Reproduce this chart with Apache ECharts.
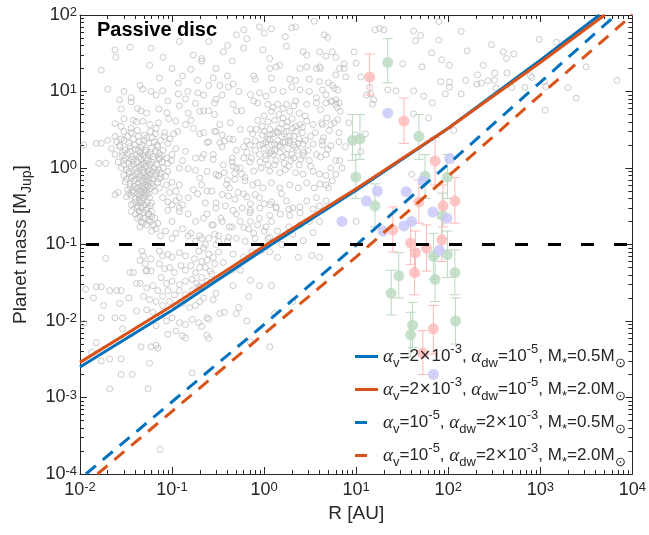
<!DOCTYPE html>
<html><head><meta charset="utf-8">
<script src="https://cdn.jsdelivr.net/npm/echarts@6/dist/echarts.min.js"></script>
<style>html,body{margin:0;padding:0;background:#fff}#c{width:649px;height:535px}</style>
</head><body><div id="c"></div>
<script>
// ---- grey exoplanets [R (AU), M (MJup)] ----
const exoHotJupiters = [
[0.03,3.0],[0.036,2.9],[0.042,3.1],[0.05,2.7],[0.058,3.0],[0.066,2.8],[0.024,2.6],[0.028,2.4],
[0.020,2.3],[0.025,2.2],[0.03,2.3],[0.034,2.1],[0.038,2.4],[0.044,2.2],[0.05,2.3],[0.056,2.1],[0.064,2.2],[0.075,2.3],[0.09,2.1],
[0.022,1.8],[0.027,1.9],[0.031,1.7],[0.035,1.9],[0.04,1.75],[0.046,1.85],[0.052,1.7],[0.06,1.8],[0.07,1.9],[0.08,1.7],
[0.024,1.5],[0.029,1.45],[0.033,1.55],[0.037,1.4],[0.041,1.5],[0.045,1.6],[0.049,1.45],[0.055,1.5],[0.062,1.4],[0.072,1.55],[0.1,1.5],
[0.026,1.2],[0.030,1.25],[0.034,1.15],[0.038,1.25],[0.042,1.2],[0.046,1.3],[0.05,1.15],[0.054,1.25],[0.06,1.2],[0.068,1.1],[0.078,1.2],[0.09,1.15],
[0.028,1.0],[0.032,0.95],[0.036,1.05],[0.04,0.98],[0.044,1.02],[0.048,0.94],[0.052,1.05],[0.057,0.97],[0.064,1.0],[0.072,0.95],
[0.03,0.8],[0.034,0.85],[0.038,0.78],[0.041,0.84],[0.045,0.8],[0.049,0.86],[0.053,0.78],[0.058,0.82],[0.065,0.8],[0.075,0.85],[0.085,0.78],
[0.031,0.66],[0.035,0.62],[0.039,0.68],[0.043,0.63],[0.047,0.67],[0.051,0.61],[0.055,0.66],[0.06,0.63],[0.07,0.65],
[0.033,0.52],[0.037,0.5],[0.041,0.54],[0.045,0.5],[0.049,0.53],[0.053,0.5],[0.058,0.54],[0.065,0.5],
[0.032,0.42],[0.036,0.44],[0.04,0.4],[0.044,0.43],[0.048,0.41],[0.052,0.44],[0.057,0.41],[0.024,0.45],[0.026,0.48],
[0.038,0.34],[0.042,0.32],[0.046,0.35],[0.05,0.33],[0.06,0.35],
[0.036,0.27],[0.04,0.25],[0.044,0.27],[0.048,0.26],[0.052,0.28],[0.056,0.25],[0.042,0.22],[0.05,0.22],[0.046,0.2],
[0.042,0.3],[0.046,0.31],[0.054,0.3],[0.058,0.32],[0.044,0.27],[0.056,0.25],[0.06,0.27],[0.045,0.23],[0.055,0.21],[0.06,0.23],
[0.065,0.22],[0.048,0.19],[0.053,0.18],[0.058,0.2],[0.063,0.18],[0.07,0.19],[0.036,0.33],[0.09,0.36],[0.1,0.33],[0.11,0.37],
[0.13,0.33],[0.12,0.27],[0.09,0.28],[0.075,0.13],[0.085,0.15],[0.067,0.16],[0.06,0.15],[0.045,0.17],[0.1,0.12],[0.11,0.14],[0.15,0.13],[0.18,0.11],
[0.027,2.0],[0.033,2.6],[0.039,2.0],[0.043,2.6],[0.047,2.0],[0.053,2.5],[0.061,2.5],[0.069,2.0],[0.082,2.6],[0.095,2.4],
[0.029,1.6],[0.035,1.65],[0.043,1.68],[0.051,1.6],[0.058,1.62],[0.066,1.65],[0.076,1.45],[0.088,1.35],
[0.031,1.35],[0.036,1.3],[0.044,1.38],[0.048,1.12],[0.052,1.35],[0.057,1.1],[0.063,1.3],[0.073,1.3],
[0.03,1.1],[0.034,0.9],[0.038,1.12],[0.042,0.9],[0.046,1.1],[0.05,0.88],[0.055,0.9],[0.061,0.9],[0.068,0.88],[0.08,1.0],
[0.032,0.72],[0.036,0.75],[0.04,0.72],[0.044,0.72],[0.048,0.74],[0.052,0.7],[0.056,0.73],[0.062,0.72],[0.072,0.72],
[0.035,0.57],[0.039,0.58],[0.043,0.56],[0.047,0.58],[0.051,0.56],[0.055,0.58],[0.062,0.57],
[0.034,0.46],[0.038,0.47],[0.042,0.46],[0.046,0.46],[0.05,0.47],[0.055,0.46],[0.04,0.36],[0.044,0.38],[0.048,0.37],[0.054,0.36]
];
const exoUpperLeft = [
[0.024,35],[0.0245,28],[0.035,38],[0.059,37],[0.057,22],[0.017,19],[0.073,15],[0.045,12],[0.048,10.7],[0.059,10],[0.067,9],[0.079,10.2],
[0.117,12.9],[0.117,9.3],[0.148,10],[0.19,9.6],[0.19,14],[0.16,19.5],[0.21,25],[0.020,10.7],[0.030,10],[0.027,7.8],[0.036,8.3],[0.036,7.3],
[0.028,5.9],[0.042,6.0],[0.046,5.6],[0.053,5.2],[0.072,5.9],[0.088,5.3],[0.030,4.4],[0.024,3.8],[0.028,3.5],[0.036,3.3],[0.038,4.2],[0.041,4.0],
[0.048,4.1],[0.057,3.7],[0.071,3.9],[0.067,3.3],[0.092,4.4],[0.11,4.1],[0.14,3.7],[0.17,3.3],[0.20,5.5],[0.083,2.9],[0.104,2.8],[0.115,3.0],
[0.015,2.1],[0.017,2.1],[0.016,1.15],[0.019,1.15],[0.011,2.0],
[0.12,1.0],[0.15,0.98],[0.18,0.93],[0.2,0.74],[0.17,0.52],[0.19,0.46],[0.15,0.41],[0.12,0.41],[0.11,0.5],[0.12,0.6],[0.10,0.65],[0.09,0.9],
[0.076,0.75],[0.087,0.6],[0.094,0.48],[0.073,0.55],[0.079,0.41],[0.098,1.25],[0.13,1.25],[0.073,1.35],[0.18,1.35],[0.14,1.65],[0.11,1.8],
[0.12,6.5],[0.15,5.2],[0.14,8],[0.18,7],[0.22,9],[0.25,12],[0.28,15],[0.13,16],[0.1,20],[0.17,30],[0.3,20],[0.35,9],[0.4,16],[0.45,25],
[0.12,45],[0.25,45],[0.4,40],[0.08,28],[0.09,7.5],[0.16,4.2]
];
const exoMidSparse = [
[0.2,2.8],[0.25,2.2],[0.3,3.0],[0.35,1.9],[0.42,2.4],[0.5,1.7],[0.6,1.9],[0.22,1.5],[0.28,1.3],[0.36,1.1],[0.45,1.2],[0.55,1.0],[0.7,1.2],
[0.24,0.9],[0.32,0.8],[0.4,0.7],[0.48,0.85],[0.62,0.75],[0.75,0.6],[0.21,0.6],[0.27,0.5],[0.35,0.45],[0.42,0.55],[0.52,0.48],[0.65,0.42],
[0.8,0.45],[0.23,0.35],[0.3,0.3],[0.38,0.32],[0.46,0.28],[0.58,0.3],[0.7,0.26],[0.9,0.3],[0.12,0.3],[0.15,0.25],[0.18,0.2],[0.22,0.22],
[0.28,0.18],[0.35,0.2],[0.45,0.17],[0.55,0.2],[0.68,0.16],[0.85,0.18],[0.1,0.2],[0.13,0.16],[0.16,0.14],[0.2,0.13],[0.25,0.12],[0.32,0.13],
[0.4,0.11],[0.5,0.12],[0.62,0.11],[0.8,0.12],[1.0,0.15],[1.2,0.2],[1.5,0.25],[1.1,0.12]
];
const exoColdJupiters = [
[0.60,64],[0.89,70],[1.2,66],[2.0,68],[2.2,70],[3.5,83],[0.50,55],[0.65,49],[1.0,58],[1.7,52],[4.9,51],[0.36,33],[0.60,37],[0.97,35],
[1.15,27],[1.75,39],[2.65,33],[2.9,30],[4.0,33],[4.7,29],[0.21,27],[1.48,22],[1.35,21],[2.45,20],[2.9,21],[3.7,20],[4.0,21],[1.15,20],
[0.77,16],[0.8,14.5],[1.2,15],[1.9,14.5],[2.2,14],[3.1,14.5],[4.0,13.5],[5.5,12],[0.46,12.5],[0.33,12],[0.41,11.5],[0.53,10],[0.71,9.1],
[0.89,9.6],[1.05,8.7],[1.25,10.5],[1.6,10],[2.0,11.5],[2.45,10.5],[3.1,10],[3.7,8.3],[4.7,9.1],[5.5,7.5],[0.30,7.9],[0.29,7.1],[0.25,5.6],
[0.22,5.6],[0.46,6.8],[0.50,5.6],[0.57,5.6],[0.77,7.5],[0.85,7.1],[1.1,6.8],[1.4,6.8],[1.75,6.8],[2.2,7.5],[2.9,6.8],[3.7,7.1],[4.7,7.1],
[6.0,6.8],[0.29,5.0],[0.33,3.7],[0.43,3.9],[0.55,3.2],[0.71,3.2],[0.82,3.2],[1.0,3.0],[1.15,2.7],[1.4,2.9],[1.75,3.0],[2.05,3.3],[2.45,3.7],
[2.9,4.1],[3.4,3.7],[4.3,3.7],[5.3,3.7],[0.22,2.9],[0.29,3.0],[0.35,2.7],[0.24,2.15],[0.33,2.15],[0.37,2.25],[0.46,2.35],[0.65,2.25],
[0.80,2.25],[0.97,2.05],[1.15,2.35],[1.3,2.05],[1.6,2.15],[1.9,2.15],[2.2,1.85],[2.65,2.05],[3.4,2.05],[4.3,2.25],[5.3,1.95],[0.21,1.35],
[0.28,1.5],[0.45,1.35],[0.50,1.0],[0.60,1.35],[0.73,1.35],[0.89,1.5],[1.05,1.45],[1.2,1.65],[1.48,1.6],[1.75,1.5],[2.1,1.35],[2.65,1.45],
[3.1,1.25],[3.7,1.5],[4.7,1.5],[6.0,1.25],[0.30,0.83],[0.37,0.87],[0.46,1.05],[0.57,0.83],[0.77,0.91],[0.93,1.0],[1.15,0.91],[1.48,0.87],
[1.85,1.05],[2.2,0.87],[2.65,0.83],[3.4,0.91],[4.0,0.83],[0.24,0.50],[0.32,0.79],[0.39,0.61],[0.48,0.71],[0.62,0.68],[0.85,0.64],[0.97,0.55],
[1.2,0.64],[1.48,0.55],[1.9,0.6],[2.35,0.55],[2.9,0.64],[3.5,0.55],[4.7,0.6],[5.5,0.68],[0.41,0.43],[0.48,0.39],[0.6,0.46],[0.89,0.41],
[1.0,0.34],[1.2,0.36],[1.55,0.46],[1.75,0.37],[2.05,0.3],[2.9,0.37],[3.7,0.41],[4.7,0.37],[1.35,0.3],[0.71,0.28],
[1.0,1.8],[1.1,2.4],[1.2,2.0],[1.25,2.8],[1.3,1.7],[1.4,2.3],[1.45,3.3],[1.5,1.9],[1.55,2.6],[1.6,1.4],[1.7,2.2],[1.75,3.5],[1.8,1.8],
[1.9,2.6],[2.0,1.5],[2.1,2.0],[2.2,3.0],[2.3,1.7],[2.4,2.4],[2.5,1.3],[1.05,1.3],[1.15,3.2],[1.35,1.25],[1.65,1.15],[1.95,1.25],[2.6,2.9],
[2.8,2.3],[3.0,1.7],[0.95,2.7],[1.1,1.1],[1.3,4.2],[1.6,4.5],[2.0,4.4],[2.4,5.2],[1.0,4.8],[1.2,5.5],[3.2,2.6],[3.6,2.9],[0.8,1.7],[0.75,2.8],
[0.9,2.0],[1.05,2.2],[1.25,1.5],[1.45,2.0],[1.65,2.8],[1.85,2.3],[2.1,2.6],[2.35,2.1],[2.7,1.6],[1.15,1.55],[1.35,3.0],[1.55,3.8],[1.8,4.0],
[2.2,3.5],[2.6,3.4],[0.95,3.5],[1.1,4.0],[1.45,5.0],[1.9,5.5],[2.8,4.8],[1.25,6.2],[1.6,6.0],[2.1,6.5],[0.85,4.2],[0.7,2.0],[0.65,1.6],
[0.9,1.2],[1.3,1.1],[1.7,0.95],[2.4,1.1],[3.2,1.05]
];
const exoWide = [
[16,64],[18,67],[20,64],[42,62],[44,46],[50,54],[79,82],[79,47],[138,61],[160,34],[295,41],[395,33],[515,31],[430,27],[970,48],[1500,44],
[3150,21],[6800,14],[9.5,33],[10,23.5],[7.4,23],[7.4,20],[7.7,15.5],[6.0,28],[11.3,15.5],[14,11.3],[14.4,9.3],[13,9],[22,10.5],[27,10.2],
[32,23],[52,21],[66,32],[85,26],[103,22],[83,13.4],[103,13.3],[103,11.4],[155,14],[208,16.5],[240,22],[320,17.4],[318,14],[205,12.5],
[228,12.9],[270,13.8],[330,11.1],[435,17.4],[490,11.3],[680,11.3],[780,16.1],[810,15.3],[1100,13.4],[1150,11.6],[2000,11.3],[2450,8.2],
[1130,5.7],[138,9.3],[93,9.3],[42,10.2],[67,7.1],[42,5.1],[61,4.5],[115,3.1],[54,8.7],[6.0,16.5],[6.3,10.5],[6.0,7.8],[6.5,7.1],[6.7,5.5],
[6.3,4.3],[8.3,3.9],[6.5,2.9],[12.6,2.8],[11.2,1.65],[6.0,0.83],[40,0.83],[10,0.2],[15.5,7.8],[15,6.8],
[4.5,55],[5.5,33],[6.6,20],[4.1,20],[5.0,13],[5.8,11],[4.3,10.5],[5.3,7.4],[6.2,6.2],[4.1,5.8],[4.8,4.5],[5.8,3.9],[4.2,3.9],[5.1,3.1],
[4.4,2.5],[6.5,2.2],[4.3,2.0],[4.9,1.75],[4.1,1.4],[5.3,1.0],[7.0,1.0],[4.7,0.8],[4.05,0.62],[5.0,0.55],[9.8,2.7],[7.6,1.9],[6.6,1.25]
];
const exoLowMass = [
[0.019,0.066],[0.0115,0.026],[0.014,0.020],[0.015,0.028],[0.017,0.028],[0.021,0.025],[0.025,0.025],[0.028,0.025],[0.018,0.016],[0.027,0.017],
[0.017,0.011],[0.024,0.011],[0.029,0.011],[0.029,0.0079],[0.015,0.0052],[0.0134,0.0039],[0.021,0.0032],[0.028,0.0032],[0.028,0.002],
[0.037,0.002],[0.021,0.0013],[0.055,0.0013],[0.074,0.00021],[0.036,0.0068],[0.046,0.0046],[0.057,0.0028],[0.067,0.0048],[0.035,0.043],
[0.038,0.043],[0.041,0.031],[0.045,0.031],[0.052,0.045],[0.059,0.045],[0.034,0.020],[0.011,0.0093],[0.017,0.003],[0.165,0.0021],
[0.047,0.082],[0.049,0.071],[0.045,0.062],[0.051,0.056],[0.059,0.065],[0.073,0.082],[0.079,0.071],[0.09,0.074],[0.10,0.068],[0.12,0.078],
[0.14,0.071],[0.175,0.065],[0.195,0.082],[0.053,0.046],[0.073,0.056],[0.083,0.048],[0.094,0.05],[0.106,0.043],[0.125,0.053],[0.14,0.046],
[0.16,0.053],[0.18,0.043],[0.20,0.05],[0.076,0.037],[0.087,0.031],[0.10,0.033],[0.12,0.03],[0.14,0.033],[0.165,0.035],[0.185,0.031],
[0.053,0.027],[0.062,0.029],[0.07,0.025],[0.079,0.021],[0.09,0.025],[0.106,0.022],[0.12,0.025],[0.14,0.022],[0.165,0.025],[0.195,0.028],
[0.049,0.021],[0.057,0.019],[0.067,0.018],[0.079,0.016],[0.094,0.018],[0.11,0.016],[0.13,0.017],[0.155,0.015],[0.18,0.016],[0.20,0.018],
[0.041,0.0135],[0.053,0.014],[0.062,0.013],[0.076,0.0117],[0.087,0.010],[0.10,0.011],[0.12,0.0095],[0.14,0.009],[0.165,0.0105],[0.195,0.0095],
[0.067,0.0087],[0.09,0.0067],[0.11,0.0074],[0.13,0.0064],[0.059,0.0046],[0.07,0.0044],[0.14,0.006],
[0.30,0.35],[0.71,0.34],[1.15,0.33],[1.35,0.31],[1.85,0.29],[2.45,0.31],[3.4,0.29],[4.0,0.32],[0.24,0.25],[0.34,0.22],[0.50,0.25],[0.71,0.20],
[0.89,0.22],[1.15,0.24],[1.9,0.24],[2.45,0.26],[0.27,0.18],[0.42,0.17],[0.6,0.166],[0.77,0.14],[1.05,0.17],[1.4,0.15],[1.85,0.17],[2.45,0.18],
[3.1,0.2],[4.0,0.2],[0.29,0.136],[0.41,0.124],[1.15,0.124],[1.55,0.10],[2.05,0.136],[2.65,0.112],[3.4,0.143],[0.23,0.10],[0.32,0.08],
[0.46,0.075],[0.6,0.068],[0.74,0.08],[0.93,0.083],[1.15,0.08],[1.4,0.068],[2.35,0.068],[3.3,0.072],[4.0,0.068],[0.24,0.062],[0.29,0.056],
[0.36,0.058],[0.45,0.046],[0.55,0.046],[0.71,0.034],[0.89,0.029],[1.2,0.029],[0.21,0.037],[0.27,0.041],[0.30,0.023],[0.28,0.019],[0.53,0.015],
[0.5,0.0125],[0.37,0.013],[0.33,0.0125],[0.24,0.011],[0.25,0.0105],[0.21,0.0085],[0.24,0.0065],[0.25,0.0059],[0.65,0.010],[0.71,0.0053],
[1.15,0.0046],[2.05,0.018],[1.3,0.0125],[0.46,0.029],[0.68,0.021],[0.21,0.12],[0.22,0.09],[0.25,0.075],[0.23,0.05],[0.26,0.045],[0.3,0.1],
[0.21,0.06],[0.24,0.033],[0.28,0.068],[0.32,0.11],[0.2,0.028],[0.22,0.02]
];
// ---- observed candidates [R, M, Mlow, Mhigh] ----
const pinkPts = [
[14,15.5,9,31],[33,4.1,2.1,8.2],[72,1.23,0.6,2.5],[118,0.37,0.19,0.75],[88,0.32,0.17,0.6],[48,0.36,0.19,0.7],[25,0.155,0.08,0.31],
[39,0.105,0.055,0.2],[44,0.078,0.04,0.15],[58,0.09,0.045,0.18],[85,0.115,0.06,0.22],[43,0.043,0.022,0.085],[69,0.0079,0.0037,0.016],
[53,0.0038,0.002,0.0075]
];
const greenPts = [
[22,24,13,49],[9.1,2.3,1.26,5],[11,2.4,1.3,5],[48,2.6,1.3,5],[9.9,0.76,0.4,1.5],[16,0.32,0.17,0.62],[56,0.78,0.4,1.5],[98,0.76,0.4,1.5],
[86,0.24,0.12,0.47],[69,0.07,0.035,0.14],[98,0.074,0.037,0.15],[118,0.043,0.022,0.085],[72,0.035,0.018,0.07],[29,0.039,0.02,0.078],
[24,0.023,0.012,0.046],[41,0.0088,0.0045,0.0175],[39,0.0066,0.0034,0.013],[120,0.010,0.005,0.02]
];
const purplePts = [
[22,5.2],[17,0.5],[12.9,0.37],[35,0.49],[53,0.68],[104,1.33],[7,0.2],[19.5,0.15],[33,0.175],[40,0.2],[68,0.265],[97,0.22],[80,0.084],[69,0.002]
];
// ---- model curves [R, M] ----
const solidBlue = [[0.01,0.00251],[0.1,0.0138],[1,0.087],[10,0.513],[100,3.31],[1000,25.7],[4400,100]];
const solidOrange = [[0.01,0.00288],[0.1,0.0158],[1,0.0955],[10,0.537],[100,3.31],[1000,24.0],[5000,100]];
const dashBlue = [[0.0116,0.0001],[0.1,0.00088],[1,0.009],[10,0.098],[100,1.12],[1000,13.2],[6600,100]];
const dashOrange = [[0.0155,0.0001],[0.1,0.00066],[1,0.0068],[10,0.069],[100,0.78],[1000,9.0],[10000,100]];
const thresholdLine = [[0.01,0.1],[10000,0.1]];
const legendNames = ['m1','m2','m3','m4'];
const legendRich = {
 m1: '{a|α}{s|v}=2{x|×}10{p|-3}, {a|α}{s|dw}=10{p|-5}, M{s|*}=0.5M{s|⊙}',
 m2: '{a|α}{s|v}=2{x|×}10{p|-3}, {a|α}{s|dw}=10{p|-5}, M{s|*}=2.0M{s|⊙}',
 m3: '{a|α}{s|v}=10{p|-5}, {a|α}{s|dw}=2{x|×}10{p|-3}, M{s|*}=0.5M{s|⊙}',
 m4: '{a|α}{s|v}=10{p|-5}, {a|α}{s|dw}=2{x|×}10{p|-3}, M{s|*}=2.0M{s|⊙}'
};

const INK = '#262626';
const FONT = 'Liberation Sans';
const BLUE = '#0072BD', ORANGE = '#D95319';
const PINK = '#FFB8B8', GREEN = '#B9D9BF', PURPLE = '#C5C5FB', GREY = '#BEBEBE';
const ICON_SOLID = 'path://M0,0H23V3H0Z';
const ICON_DASH = 'path://M0,0H12V3H0ZM22.9,0H23V3H22.9Z';

const chart = echarts.init(document.getElementById('c'), null, {renderer: 'canvas'});
const supLabel = v => {
  const e = Math.round(Math.log10(v));
  return '{b|10}{p|' + e + '}';
};
const labelRich = {
  b: {fontSize: 18, fontFamily: FONT, color: INK, lineHeight: 18, padding: [6, 0, 0, 0], verticalAlign: 'bottom'},
  p: {fontSize: 13, fontFamily: FONT, color: INK, lineHeight: 13, verticalAlign: 'top'}
};
function axisCommon(extra) {
  return Object.assign({
    type: 'log', logBase: 10,
    axisLine: {show: true, onZero: false, lineStyle: {color: INK, width: 1}},
    axisTick: {show: true, inside: true, length: 7, lineStyle: {color: INK, width: 1}},
    minorTick: {show: true, splitNumber: 9, length: 4, lineStyle: {color: INK, width: 1}},
    splitLine: {show: false}, minorSplitLine: {show: false}
  }, extra);
}
function errBars(color) {
  return function (params, api) {
    const x = api.value(0), lo = api.value(2), hi = api.value(3);
    const a = api.coord([x, hi]), b = api.coord([x, lo]);
    const w = 5;
    const st = {stroke: color, lineWidth: 1};
    return {type: 'group', children: [
      {type: 'line', shape: {x1: a[0], y1: a[1], x2: b[0], y2: b[1]}, style: st},
      {type: 'line', shape: {x1: a[0] - w, y1: a[1], x2: a[0] + w, y2: a[1]}, style: st},
      {type: 'line', shape: {x1: b[0] - w, y1: b[1], x2: b[0] + w, y2: b[1]}, style: st}
    ]};
  };
}
const greyAll = [].concat(exoHotJupiters, exoUpperLeft, exoMidSparse, exoColdJupiters, exoWide, exoLowMass);
const lineSeries = (name, data, color, dashed) => ({
  name, type: 'line', data, symbol: 'none', showSymbol: false, z: 6, silent: true,
  lineStyle: {color, width: 3, type: dashed ? [13, 9] : 'solid', cap: 'butt', join: 'round'}, itemStyle: {color}
});

chart.setOption({
  animation: false,
  backgroundColor: '#fff',
  title: {text: 'Passive disc', left: 92, top: 15,
    textStyle: {fontFamily: FONT, fontSize: 20, fontWeight: 'bold', color: '#000'}},
  grid: {left: 79, right: 14, top: 13, bottom: 61, containLabel: false},
  xAxis: [
    axisCommon({min: 0.01, max: 10000, position: 'bottom', name: 'R [AU]', nameLocation: 'middle', nameGap: 27,
      nameTextStyle: {fontFamily: FONT, fontSize: 19, color: INK},
      axisLabel: {show: true, margin: 7, formatter: supLabel, rich: labelRich}}),
    axisCommon({min: 0.01, max: 10000, position: 'top', axisLabel: {show: false}})
  ],
  yAxis: [
    axisCommon({min: 0.0001, max: 100, position: 'left', name: 'Planet mass [M{s|Jup}]', nameLocation: 'middle', nameGap: 46,
      nameTextStyle: {fontFamily: FONT, fontSize: 19, color: INK, lineHeight: 26,
        rich: {s: {fontFamily: FONT, fontSize: 14, color: INK, lineHeight: 14, verticalAlign: 'bottom'}}},
      axisLabel: {show: true, margin: 3, formatter: supLabel, rich: labelRich}}),
    axisCommon({min: 0.0001, max: 100, position: 'right', axisLabel: {show: false}})
  ],
  legend: {
    orient: 'vertical', left: 350, top: 338, itemWidth: 23, itemHeight: 3, itemGap: 6,
    data: [
      {name: 'm1', icon: ICON_SOLID}, {name: 'm2', icon: ICON_SOLID},
      {name: 'm3', icon: ICON_DASH}, {name: 'm4', icon: ICON_DASH}
    ],
    formatter: n => legendRich[n],
    textStyle: {fontFamily: FONT, fontSize: 17, color: INK, lineHeight: 27,
      rich: {
        a: {fontFamily: 'Liberation Serif', fontStyle: 'italic', fontSize: 19, color: INK, lineHeight: 27},
        s: {fontFamily: FONT, fontSize: 13, color: INK, lineHeight: 13, verticalAlign: 'bottom'},
        p: {fontFamily: FONT, fontSize: 13, color: INK, lineHeight: 13, verticalAlign: 'top'},
        x: {fontFamily: 'DejaVu Sans', fontSize: 15, color: INK, lineHeight: 27}
      }}
  },
  series: [
    {type: 'scatter', data: greyAll, symbol: 'circle', symbolSize: 6, z: 1, silent: true,
      itemStyle: {color: 'rgba(0,0,0,0)', borderColor: GREY, borderWidth: 1}},
    {type: 'custom', data: pinkPts, renderItem: errBars(PINK), encode: {x: 0, y: 1}, z: 2, silent: true},
    {type: 'custom', data: greenPts, renderItem: errBars(GREEN), encode: {x: 0, y: 1}, z: 2, silent: true},
    {type: 'scatter', data: greenPts.map(p => [p[0], p[1]]), symbolSize: 11, z: 3, itemStyle: {color: GREEN}, silent: true},
    {type: 'scatter', data: pinkPts.map(p => [p[0], p[1]]), symbolSize: 11, z: 3, itemStyle: {color: PINK}, silent: true},
    {type: 'scatter', data: purplePts, symbolSize: 11, z: 3, itemStyle: {color: PURPLE}, silent: true},
    lineSeries('m1', solidBlue, BLUE, false),
    lineSeries('m2', solidOrange, ORANGE, false),
    lineSeries('m3', dashBlue, BLUE, true),
    lineSeries('m4', dashOrange, ORANGE, true),
    {type: 'line', data: thresholdLine, symbol: 'none', z: 7, silent: true,
      lineStyle: {color: '#000', width: 3, type: [13, 20], dashOffset: 27}}
  ]
});
</script></body></html>
